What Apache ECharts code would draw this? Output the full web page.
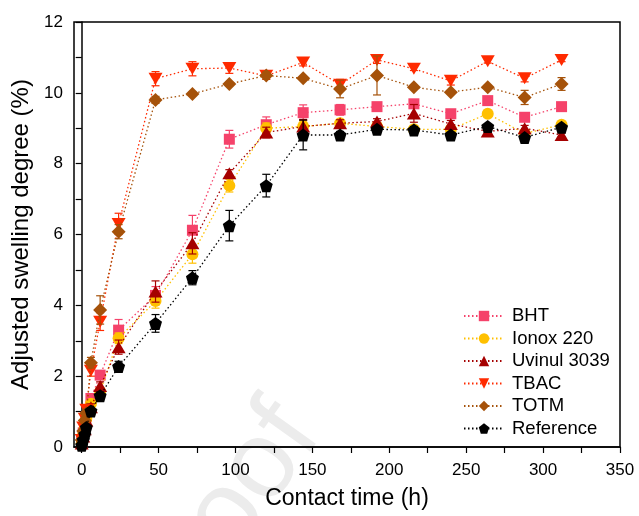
<!DOCTYPE html>
<html>
<head>
<meta charset="utf-8">
<script src="https://cdn.jsdelivr.net/npm/echarts@6/dist/echarts.min.js"></script>
<style>
  html, body { margin: 0; padding: 0; background: #fff; }
  #chart { width: 639px; height: 516px; }
</style>
</head>
<body>
<div id="chart"></div>
<script>
// contact time (h)
var times = [0, 1, 2, 3, 6, 12, 24, 48, 72, 96, 120, 144, 168, 192, 216, 240, 264, 288, 312];

var bht       = [0.15, 0.4, 0.6, 0.85, 1.37, 2.03, 3.30, 4.28, 6.12, 8.69, 9.10, 9.44, 9.52, 9.61, 9.69, 9.41, 9.78, 9.31, 9.61];
var bhtErr    = [0.05, 0.05, 0.1, 0.1, 0.1, 0.12, 0.3, 0.25, 0.42, 0.25, 0.22, 0.22, 0.15, 0.08, 0.12, 0.08, 0.08, 0.1, 0.08];
var ionox     = [0.1, 0.35, 0.55, 0.8, 1.22, 1.56, 3.07, 4.12, 5.44, 7.38, 9.0, 9.05, 9.14, 9.05, 8.97, 8.97, 9.41, 8.85, 9.10];
var ionoxErr  = [0.05, 0.05, 0.08, 0.1, 0.1, 0.1, 0.15, 0.2, 0.25, 0.18, 0.15, 0.15, 0.1, 0.08, 0.08, 0.08, 0.05, 0.08, 0.08];
var uvinul    = [0.1, 0.3, 0.5, 0.75, 1.12, 1.72, 2.82, 4.39, 5.75, 7.73, 8.88, 9.05, 9.14, 9.19, 9.42, 9.12, 8.91, 9.0, 8.81];
var uvinulErr = [0.05, 0.05, 0.08, 0.1, 0.1, 0.12, 0.2, 0.3, 0.3, 0.1, 0.15, 0.2, 0.1, 0.08, 0.25, 0.1, 0.05, 0.08, 0.05];
var tbac      = [0.2, 0.55, 0.8, 1.05, 2.15, 3.54, 6.3, 10.40, 10.68, 10.70, 10.48, 10.86, 10.23, 10.93, 10.68, 10.34, 10.89, 10.41, 10.93];
var tbacErr   = [0.05, 0.08, 0.1, 0.12, 0.15, 0.25, 0.3, 0.2, 0.2, 0.15, 0.1, 0.1, 0.15, 0.1, 0.05, 0.12, 0.05, 0.1, 0.05];
var totm      = [0.2, 0.45, 0.75, 0.95, 2.38, 3.87, 6.08, 9.80, 9.97, 10.25, 10.49, 10.41, 10.11, 10.49, 10.16, 10.02, 10.16, 9.87, 10.25];
var totmErr   = [0.05, 0.08, 0.1, 0.12, 0.15, 0.4, 0.2, 0.1, 0.05, 0.05, 0.1, 0.05, 0.25, 0.55, 0.05, 0.05, 0.05, 0.2, 0.18];
var reference = [0.05, 0.2, 0.35, 0.55, 1.02, 1.45, 2.27, 3.49, 4.78, 6.25, 7.38, 8.81, 8.81, 8.97, 8.95, 8.81, 9.05, 8.74, 9.03];
var refErr    = [0.03, 0.05, 0.05, 0.08, 0.08, 0.1, 0.15, 0.25, 0.2, 0.43, 0.32, 0.42, 0.1, 0.05, 0.1, 0.05, 0.05, 0.05, 0.05];

var xTicks = [0, 25, 50, 75, 100, 125, 150, 175, 200, 225, 250, 275, 300, 325, 350];
var xLabels = [0, 50, 100, 150, 200, 250, 300, 350];

var font = 'Liberation Sans, Arial, sans-serif';
var pentagon = 'path://M0,-1 L0.951,-0.309 L0.588,0.809 L-0.588,0.809 L-0.951,-0.309 Z';

var defs = [
    {name: 'BHT',         vals: bht,       err: bhtErr,    color: '#f5426a', symbol: 'rect',     size: 11, rot: 0},
    {name: 'Ionox 220',   vals: ionox,     err: ionoxErr,  color: '#ffc000', symbol: 'circle',   size: 12, rot: 0},
    {name: 'Uvinul 3039', vals: uvinul,    err: uvinulErr, color: '#a50000', symbol: 'triangle', size: [14, 12], rot: 0},
    {name: 'TBAC',        vals: tbac,      err: tbacErr,   color: '#ff2a00', symbol: 'triangle', size: [14, 12], rot: 180},
    {name: 'TOTM',        vals: totm,      err: totmErr,   color: '#a5520a', symbol: 'diamond',  size: [14, 14], rot: 0},
    {name: 'Reference',   vals: reference, err: refErr,    color: '#000000', symbol: pentagon,   size: 13, rot: 0}
];

function zip(vals) {
    return times.map(function(t, i){ return [t, vals[i]]; });
}

function errData(vals, err) {
    return times.map(function(t, i){ return [t, vals[i] - err[i], vals[i] + err[i]]; });
}

function renderErr(params, api) {
    var lo = api.coord([api.value(0), api.value(1)]);
    var hi = api.coord([api.value(0), api.value(2)]);
    var w = 4;
    var st = {stroke: api.visual('color'), lineWidth: 1.2};
    return {
        type: 'group',
        children: [
            {type: 'line', shape: {x1: lo[0], y1: lo[1], x2: hi[0], y2: hi[1]}, style: st},
            {type: 'line', shape: {x1: lo[0] - w, y1: lo[1], x2: lo[0] + w, y2: lo[1]}, style: st},
            {type: 'line', shape: {x1: hi[0] - w, y1: hi[1], x2: hi[0] + w, y2: hi[1]}, style: st}
        ]
    };
}

var series = [];
defs.forEach(function(d, k){
    series.push({
        name: d.name + ' err',
        type: 'custom',
        renderItem: renderErr,
        data: errData(d.vals, d.err),
        itemStyle: {color: d.color},
        encode: {x: 0, y: [1, 2]},
        z: 2 + k * 2,
        silent: true
    });
    series.push({
        name: d.name,
        type: 'line',
        data: zip(d.vals),
        symbol: d.symbol,
        symbolSize: d.size,
        symbolRotate: d.rot,
        showAllSymbol: true,
        color: d.color,
        lineStyle: {type: [1.5, 2.5], width: 1.3, color: d.color},
        itemStyle: {color: d.color},
        z: 3 + k * 2,
        animation: false
    });
});

var chart = echarts.init(document.getElementById('chart'));
chart.setOption({
    animation: false,
    backgroundColor: '#fff',
    graphic: [{
        type: 'text',
        left: 100,
        top: 385,
        rotation: 0.95,
        z: -10,
        style: {text: 'Proof', fontSize: 110, fontFamily: font, fill: '#ececec'}
    }],
    grid: {
        left: 74,
        right: 19,
        top: 22,
        bottom: 69,
        show: true,
        borderColor: '#000',
        borderWidth: 1.5
    },
    legend: {
        data: defs.map(function(d){ return d.name; }),
        orient: 'vertical',
        left: 463,
        top: 306,
        padding: 0,
        itemWidth: 40,
        itemHeight: 13,
        itemGap: 2.5,
        textStyle: {fontFamily: font, fontSize: 18.5, lineHeight: 20, color: '#000', padding: [0, 0, 0, 3]}
    },
    xAxis: {
        type: 'value',
        min: -5,
        max: 350,
        name: 'Contact time (h)',
        nameLocation: 'middle',
        nameGap: 40,
        nameTextStyle: {fontFamily: font, fontSize: 23, color: '#000'},
        axisLine: {onZero: false, lineStyle: {color: '#000', width: 1.5}},
        axisTick: {show: true, length: 6, customValues: xTicks, lineStyle: {color: '#000', width: 1.2}},
        axisLabel: {customValues: xLabels, fontFamily: font, fontSize: 17, color: '#000', margin: 15},
        splitLine: {show: false}
    },
    yAxis: {
        type: 'value',
        min: 0,
        max: 12,
        interval: 2,
        name: 'Adjusted swelling degree (%)',
        nameLocation: 'middle',
        nameGap: 35,
        nameTextStyle: {fontFamily: font, fontSize: 24, color: '#000'},
        axisLine: {show: true, lineStyle: {color: '#000', width: 1.5}},
        axisTick: {show: true, length: 6, lineStyle: {color: '#000', width: 1.2}},
        minorTick: {show: true, splitNumber: 2, length: 6, lineStyle: {color: '#000', width: 1.2}},
        axisLabel: {fontFamily: font, fontSize: 17, color: '#000', margin: 11},
        splitLine: {show: false}
    },
    series: series
});
</script>
</body>
</html>
